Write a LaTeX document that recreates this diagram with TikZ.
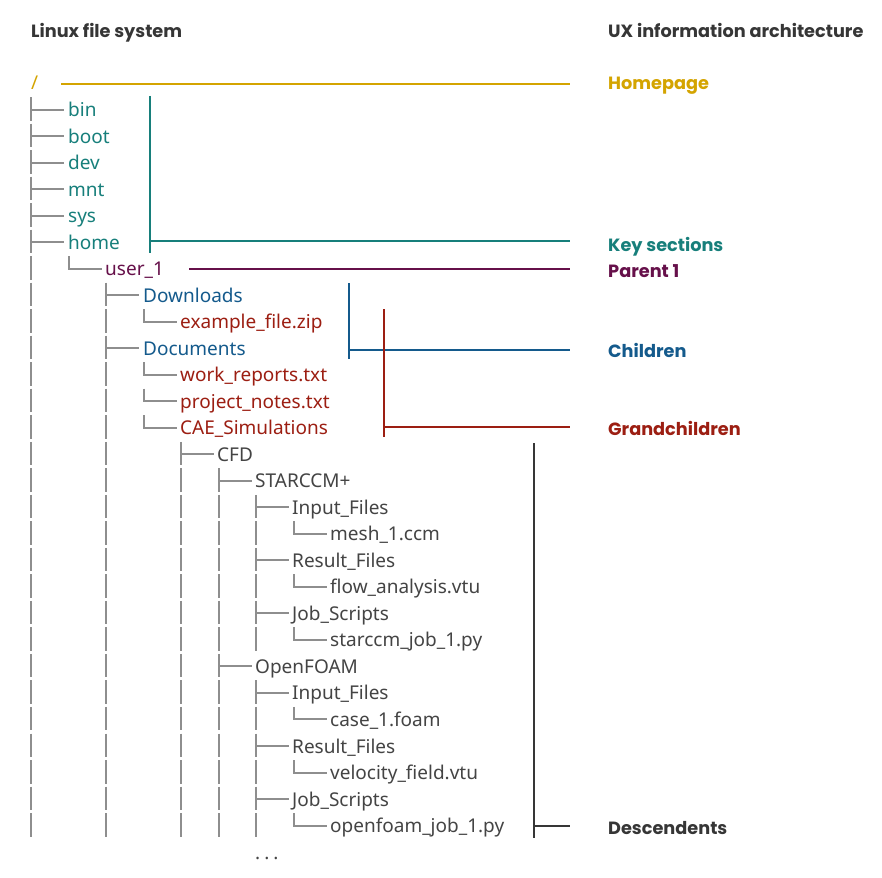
\documentclass[tikz,border=0pt]{standalone}
\usepackage{fontspec}
\setmainfont{Noto Sans}
\newfontfamily\hfont{Poppins}
\definecolor{cgold}{HTML}{D4A400}
\definecolor{cteal}{HTML}{177F7B}
\definecolor{cpurp}{HTML}{66104A}
\definecolor{cblue}{HTML}{145A8C}
\definecolor{cred}{HTML}{9C1E12}
\definecolor{cdark}{HTML}{363636}
\definecolor{cgray}{HTML}{8E8E8E}
\definecolor{ctext}{HTML}{444444}
\newcommand\itm[5]{\node[tx,text=#4] (#1) at (#2,{83+26.52*#3+7}) {#5};}
\newcommand\us{\rule[-2.2pt]{0.55em}{1.1pt}}
\newcommand\tee[2]{\draw[treeline] ({31+37.5*#1},{83+26.52*#2-12.5}) -- ({31+37.5*#1},{83+26.52*#2+11}) ({31+37.5*#1},{83+26.52*#2}) -- ++(33,0);}
\newcommand\elb[2]{\draw[treeline] ({31+37.5*#1},{83+26.52*#2-12.5}) -- ({31+37.5*#1},{83+26.52*#2}) -- ++(33,0);}
\newcommand\pip[2]{\draw[treeline] ({31+37.5*#1},{83+26.52*#2-12.5}) -- ({31+37.5*#1},{83+26.52*#2+11});}
\begin{document}
\begin{tikzpicture}[x=1pt,y=-1pt,
  tx/.style={anchor=base west, inner sep=0pt, font=\fontsize{19}{20}\selectfont},
  hd/.style={anchor=base west, inner sep=0pt, font=\hfont\bfseries\fontsize{17.7}{20}\selectfont},
  treeline/.style={draw=cgray, line width=2pt},
  brk/.style={line width=2.2pt},
  brkthick/.style={line width=2.8pt}]
\useasboundingbox[fill=white] (0,0) rectangle (882,877);
% headings
\node[hd,text=cdark] (hleft) at (31,38) {Linux file system};
\node[hd,text=cdark] (hright) at (608,38) {UX information architecture};
% tree texts
\itm{root}{31}{0}{cgold}{/}
\itm{bin}{68}{1}{cteal}{bin}
\itm{boot}{68}{2}{cteal}{boot}
\itm{dev}{68}{3}{cteal}{dev}
\itm{mnt}{68}{4}{cteal}{mnt}
\itm{sys}{68}{5}{cteal}{sys}
\itm{home}{68}{6}{cteal}{home}
\itm{user}{105}{7}{cpurp}{user\_1}
\itm{down}{143}{8}{cblue}{Downloads}
\itm{zip}{180}{9}{cred}{example\_file.zip}
\itm{docs}{143}{10}{cblue}{Documents}
\itm{work}{180}{11}{cred}{work\_reports.txt}
\itm{proj}{180}{12}{cred}{project\_notes.txt}
\itm{cae}{180}{13}{cred}{CAE\_Simulations}
\itm{cfd}{217}{14}{ctext}{CFD}
\itm{star}{255}{15}{ctext}{STARCCM+}
\itm{sin}{292}{16}{ctext}{Input\_Files}
\itm{smesh}{330}{17}{ctext}{mesh\_1.ccm}
\itm{sres}{292}{18}{ctext}{Result\_Files}
\itm{sflow}{330}{19}{ctext}{flow\_analysis.vtu}
\itm{sjob}{292}{20}{ctext}{Job\_Scripts}
\itm{sjobf}{330}{21}{ctext}{starccm\_job\_1.py}
\itm{foam}{255}{22}{ctext}{OpenFOAM}
\itm{fin}{292}{23}{ctext}{Input\_Files}
\itm{fcase}{330}{24}{ctext}{case\_1.foam}
\itm{fres}{292}{25}{ctext}{Result\_Files}
\itm{fvel}{330}{26}{ctext}{velocity\_field.vtu}
\itm{fjob}{292}{27}{ctext}{Job\_Scripts}
\itm{fjobf}{330}{28}{ctext}{openfoam\_job\_1.py}
\itm{more}{255}{29}{ctext}{.\hspace{4pt}.\hspace{4pt}.}
% tree lines
\foreach \r in {1,...,6}{\tee{0}{\r}}
\foreach \r in {7,...,28}{\pip{0}{\r}}
\elb{1}{7}
\tee{2}{8}\pip{2}{9}\tee{2}{10}
\foreach \r in {11,...,28}{\pip{2}{\r}}
\elb{3}{9}\elb{3}{11}\elb{3}{12}\elb{3}{13}
\tee{4}{14}
\foreach \r in {15,...,28}{\pip{4}{\r}}
\tee{5}{15}
\foreach \r in {16,...,21}{\pip{5}{\r}}
\tee{5}{22}
\foreach \r in {23,...,28}{\pip{5}{\r}}
\tee{6}{16}\pip{6}{17}\tee{6}{18}\pip{6}{19}\tee{6}{20}\pip{6}{21}
\tee{6}{23}\pip{6}{24}\tee{6}{25}\pip{6}{26}\tee{6}{27}\pip{6}{28}
\elb{7}{17}\elb{7}{19}\elb{7}{21}\elb{7}{24}\elb{7}{26}\elb{7}{28}
% right labels
\node[hd,text=cgold] (lhome) at (608,90) {Homepage};
\node[hd,text=cteal] (lkey) at (608,251) {Key sections};
\node[hd,text=cpurp] (lpar) at (608,277) {Parent 1};
\node[hd,text=cblue] (lchild) at (608,357) {Children};
\node[hd,text=cred] (lgrand) at (608,435) {Grandchildren};
\node[hd,text=cdark] (ldesc) at (608,834) {Descendents};
% bracket coordinates
\coordinate (hA) at (61,84); \coordinate (hB) at (570,84);
\coordinate (kT) at (150,96); \coordinate (kBot) at (150,253); \coordinate (kM) at (150,241); \coordinate (kR) at (570,241);
\coordinate (pA) at (189,269); \coordinate (pB) at (570,269);
\coordinate (cT) at (349,283); \coordinate (cBot) at (349,359); \coordinate (cM) at (349,350); \coordinate (cR) at (570,350);
\coordinate (gT) at (384,309); \coordinate (gBot) at (384,437); \coordinate (gM) at (384,427); \coordinate (gR) at (570,427);
\coordinate (dT) at (534,443); \coordinate (dBot) at (534,838); \coordinate (dM) at (534,826); \coordinate (dR) at (570,826);
\draw[brk,cgold] (hA) -- (hB);
\draw[brkthick,cteal] (kT) -- (kBot) (kM) -- (kR);
\draw[brk,cpurp] (pA) -- (pB);
\draw[brk,cblue] (cT) -- (cBot) (cM) -- (cR);
\draw[brkthick,cred] (gT) -- (gBot) (gM) -- (gR);
\draw[brkthick,cdark] (dT) -- (dBot) (dM) -- (dR);
\end{tikzpicture}
\end{document}
